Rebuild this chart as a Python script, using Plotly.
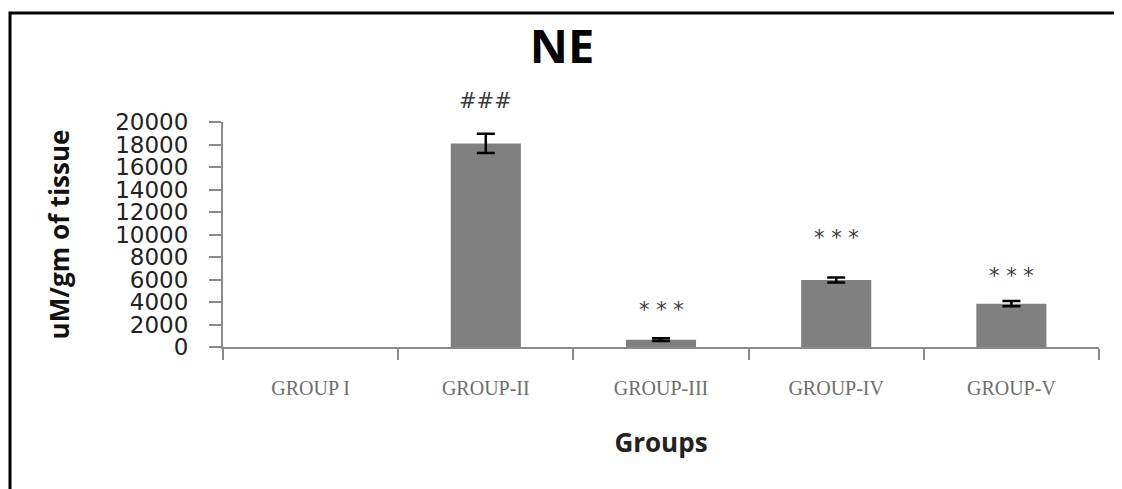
import plotly.graph_objects as go

groups = ["GROUP I", "GROUP-II", "GROUP-III", "GROUP-IV", "GROUP-V"]
ne_values = [None, 18100, 650, 5950, 3850]
ne_errors = [None, 850, 120, 220, 230]
sig_labels = ["", "###", "* * *", "* * *", "* * *"]
y_ticks = list(range(0, 20001, 2000))

# page body has an 8px margin, so work in shifted pixel coordinates
OFF = 8
W, H = 1122 - OFF, 489 - OFF
L, T = 223 - OFF, 122 - OFF
pw, ph = 876, 225
R = W - L - pw
B = H - T - ph

fig = go.Figure()
fig.add_trace(go.Bar(
    x=groups, y=ne_values,
    width=0.4,
    marker=dict(color="#808080", line=dict(width=0)),
    error_y=dict(type="data", array=ne_errors, visible=True,
                 color="black", thickness=2.5, width=9),
    showlegend=False,
))

shifts = [0, 33, 28, 40, 25]
for g, v, e, lab, s in zip(groups, ne_values, ne_errors, sig_labels, shifts):
    if not lab:
        continue
    fig.add_annotation(x=g, y=(v or 0) + (e or 0), text=lab, showarrow=False,
                       yanchor="middle", yshift=s,
                       font=dict(family="DejaVu Sans", size=21,
                                 color="#3a3a3a"))

# outer frame
fig.add_shape(type="rect", xref="paper", yref="paper",
              x0=(10 - OFF - L) / pw, x1=(W + 60 - L) / pw,
              y0=-(B + 60) / ph, y1=(ph + T - 13 + OFF) / ph,
              line=dict(color="black", width=3), fillcolor="rgba(0,0,0,0)")

fig.update_layout(
    width=W, height=H,
    margin=dict(l=L, r=R, t=T, b=B),
    paper_bgcolor="white", plot_bgcolor="white",
    title=dict(text="<b>NE</b>", x=(562 - OFF) / W, xanchor="center",
               y=1 - (47 - OFF) / H, yanchor="middle",
               font=dict(family="Open Sans", size=47, color="black")),
    xaxis=dict(
        showline=True, linecolor="#8a8a8a", linewidth=2,
        ticks="outside", tickson="boundaries", ticklen=11, tickwidth=2,
        tickcolor="#8a8a8a",
        ticklabelstandoff=22,
        tickfont=dict(family="Liberation Serif", size=20, color="#6e6e6e"),
        title=dict(text="<b>Groups</b>", standoff=36,
                   font=dict(family="Open Sans", size=26, color="#222222")),
        showgrid=False,
    ),
    yaxis=dict(
        range=[0, 20000], tickvals=y_ticks, ticktext=[str(t) for t in y_ticks],
        showline=True, linecolor="#8a8a8a", linewidth=2,
        ticks="outside", ticklen=12, tickwidth=2, tickcolor="#8a8a8a",
        ticklabelstandoff=16,
        tickfont=dict(family="DejaVu Sans", size=23, color="#222222"),
        title=dict(text="<b>uM/gm of tissue</b>", standoff=38,
                   font=dict(family="Open Sans", size=26, color="#111111")),
        showgrid=False, zeroline=False,
    ),
)

fig.write_html("out.html")
